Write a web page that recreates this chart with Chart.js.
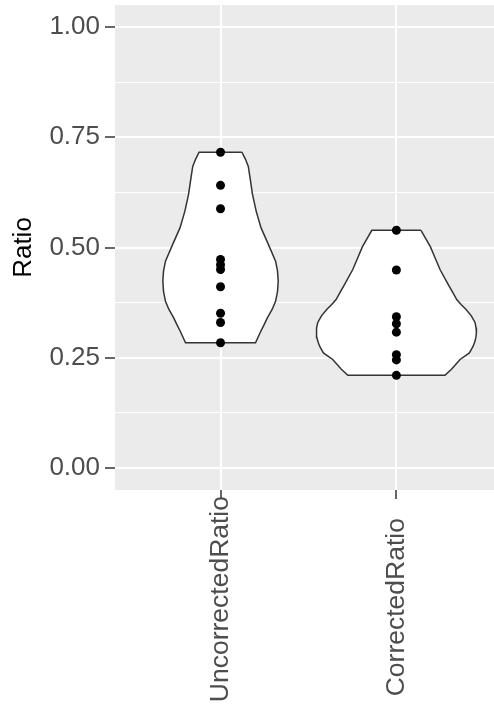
<!DOCTYPE html>
<html>
<head>
<meta charset="utf-8">
<script src="https://cdn.jsdelivr.net/npm/chart.js@4.4.1/dist/chart.umd.min.js"></script>
<style>
  html, body { margin: 0; padding: 0; background: #ffffff; }
  #wrap { width: 494px; height: 708px; }
</style>
</head>
<body>
<div id="wrap"><canvas id="chart" width="494" height="708"></canvas></div>
<script>
// Categories on the x axis
const categories = ['UncorrectedRatio', 'CorrectedRatio'];

// Observed ratios per category
const uncorrectedRatio = [0.716, 0.641, 0.588, 0.473, 0.461, 0.450, 0.411, 0.351, 0.330, 0.284];
const correctedRatio = [0.539, 0.449, 0.343, 0.327, 0.308, 0.257, 0.245, 0.210];

// Violin density profile: ratio level and half-width (in category units)
const uncorrectedLevels = [0.716, 0.700, 0.684, 0.658, 0.620, 0.582, 0.545, 0.507, 0.469, 0.447, 0.424, 0.400, 0.378, 0.360, 0.341, 0.325, 0.310, 0.297, 0.284];
const uncorrectedWidths = [0.122, 0.142, 0.158, 0.168, 0.182, 0.203, 0.230, 0.272, 0.313, 0.324, 0.328, 0.324, 0.313, 0.294, 0.267, 0.248, 0.229, 0.214, 0.199];
const correctedLevels = [0.539, 0.518, 0.502, 0.480, 0.450, 0.416, 0.400, 0.382, 0.370, 0.360, 0.345, 0.330, 0.318, 0.307, 0.296, 0.285, 0.275, 0.261, 0.246, 0.224, 0.210];
const correctedWidths = [0.140, 0.170, 0.193, 0.216, 0.248, 0.295, 0.318, 0.343, 0.369, 0.395, 0.426, 0.447, 0.453, 0.455, 0.452, 0.445, 0.435, 0.415, 0.362, 0.313, 0.276];

// Y axis ticks
const yMajorTicks = [0, 0.25, 0.5, 0.75, 1];
const yMinorTicks = [0.125, 0.375, 0.625, 0.875];
const yTickLabels = ['0.00', '0.25', '0.50', '0.75', '1.00'];

const FONT = '"Liberation Sans", Arial, Helvetica, sans-serif';
const X_LABEL_SIZE = 26.5;
const X_LABEL_HJUST = 0.31;

// Rotated category labels share one text box; shorter ones sit lower in it
const measureCtx = document.createElement('canvas').getContext('2d');
measureCtx.font = X_LABEL_SIZE + 'px ' + FONT;
const labelWidths = categories.map(c => measureCtx.measureText(c).width);
const longestLabel = Math.max.apply(null, labelWidths);
const spaceWidth = measureCtx.measureText(' ').width;
function categoryLabel(i) {
  const shift = (1 - X_LABEL_HJUST) * (longestLabel - labelWidths[i]);
  return categories[i] + ' '.repeat(Math.round(shift / spaceWidth));
}

// Closed outline: down the right side, back up the left side
function violinOutline(center, levels, widths) {
  const right = levels.map((v, i) => ({ x: center + widths[i], y: v }));
  const left = levels.map((v, i) => ({ x: center - widths[i], y: v })).reverse();
  return right.concat(left, [right[0]]);
}

function pointsAt(center, values) {
  return values.map(v => ({ x: center, y: v }));
}

const panelBackground = {
  id: 'panelBackground',
  beforeDraw(chart) {
    const { ctx, chartArea: a } = chart;
    ctx.save();
    ctx.fillStyle = '#EBEBEB';
    ctx.fillRect(a.left, a.top, a.right - a.left, a.bottom - a.top);
    ctx.restore();
  }
};

const violinStyle = {
  type: 'line',
  borderColor: '#333333',
  borderWidth: 1.5,
  backgroundColor: '#FFFFFF',
  fill: 'shape',
  pointRadius: 0,
  tension: 0,
  order: 2
};

const pointStyle = {
  type: 'scatter',
  backgroundColor: '#000000',
  borderWidth: 0,
  pointRadius: 4.5,
  order: 1
};

new Chart(document.getElementById('chart'), {
  type: 'scatter',
  data: {
    datasets: [
      Object.assign({ label: categories[0] + ' density', data: violinOutline(1, uncorrectedLevels, uncorrectedWidths) }, violinStyle),
      Object.assign({ label: categories[1] + ' density', data: violinOutline(2, correctedLevels, correctedWidths) }, violinStyle),
      Object.assign({ label: categories[0], data: pointsAt(1, uncorrectedRatio) }, pointStyle),
      Object.assign({ label: categories[1], data: pointsAt(2, correctedRatio) }, pointStyle)
    ]
  },
  options: {
    responsive: false,
    animation: false,
    events: [],
    layout: { autoPadding: false, padding: { top: 5, right: 0, bottom: 0, left: 0 } },
    plugins: { legend: { display: false }, tooltip: { enabled: false } },
    scales: {
      x: {
        type: 'linear',
        min: 0.4,
        max: 2.555,
        border: { display: false },
        afterBuildTicks(scale) {
          scale.ticks = categories.map((c, i) => ({ value: i + 1 }));
        },
        afterFit(scale) {
          scale.height = 218;
          scale.paddingLeft = 0;
          scale.paddingRight = 0;
        },
        grid: {
          color: '#FFFFFF',
          lineWidth: 2,
          tickColor: '#333333',
          tickWidth: 1.5,
          tickLength: 9
        },
        ticks: {
          autoSkip: false,
          minRotation: 90,
          maxRotation: 90,
          padding: -3,
          color: '#4D4D4D',
          font: { family: FONT, size: X_LABEL_SIZE },
          callback: (v) => categoryLabel(Math.round(v) - 1)
        }
      },
      y: {
        type: 'linear',
        min: -0.05,
        max: 1.05,
        border: { display: false },
        afterBuildTicks(scale) {
          scale.ticks = yMajorTicks.concat(yMinorTicks).sort((a, b) => a - b).map(v => ({ value: v }));
        },
        afterFit(scale) {
          scale.width = 115;
          scale.paddingTop = 0;
          scale.paddingBottom = 0;
        },
        grid: {
          color: '#FFFFFF',
          lineWidth: (ctx) => (yMajorTicks.includes(ctx.tick && ctx.tick.value) ? 2 : 1),
          tickColor: (ctx) => (yMajorTicks.includes(ctx.tick && ctx.tick.value) ? '#333333' : 'rgba(0,0,0,0)'),
          tickWidth: 1.5,
          tickLength: 10
        },
        ticks: {
          autoSkip: false,
          padding: 5,
          color: '#4D4D4D',
          font: { family: FONT, size: 26 },
          callback: (v) => {
            const i = yMajorTicks.indexOf(v);
            return i >= 0 ? yTickLabels[i] : '';
          }
        },
        title: {
          display: true,
          text: 'Ratio',
          color: '#000000',
          padding: { top: 8, bottom: 0 },
          font: { family: FONT, size: 26 }
        }
      }
    }
  },
  plugins: [panelBackground]
});
</script>
</body>
</html>
